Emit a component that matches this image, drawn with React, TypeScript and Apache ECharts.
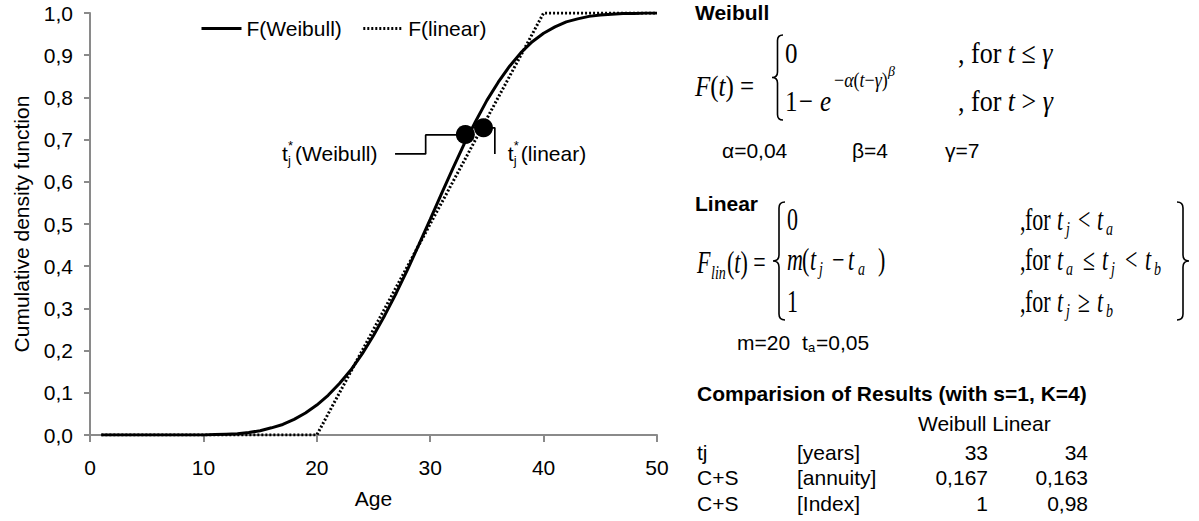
import React, { useEffect, useRef } from "react";
import * as echarts from "echarts";

// ---------- data ----------
const ages = [
  1, 2, 3, 4, 5, 6, 7, 8, 9, 10, 11, 12, 13, 14, 15, 16, 17, 18, 19, 20, 21, 22, 23, 24, 25,
  26, 27, 28, 29, 30, 31, 32, 33, 34, 35, 36, 37, 38, 39, 40, 41, 42, 43, 44, 45, 46, 47, 48, 49, 50,
];
const weibullF = [
  0, 0, 0, 0, 0, 0, 0, 0.0, 0.0, 0.0, 0.001, 0.002, 0.003, 0.006, 0.01, 0.017, 0.025, 0.037, 0.052, 0.071,
  0.094, 0.122, 0.154, 0.192, 0.236, 0.284, 0.336, 0.392, 0.451, 0.511, 0.572, 0.632, 0.69, 0.743, 0.793,
  0.836, 0.874, 0.906, 0.932, 0.952, 0.967, 0.979, 0.986, 0.992, 0.995, 0.997, 0.999, 0.999, 1.0, 1.0,
];
const linearF = [
  0, 0, 0, 0, 0, 0, 0, 0, 0, 0, 0, 0, 0, 0, 0, 0, 0, 0, 0, 0,
  0.05, 0.1, 0.15, 0.2, 0.25, 0.3, 0.35, 0.4, 0.45, 0.5, 0.55, 0.6, 0.65, 0.7, 0.75, 0.8, 0.85, 0.9, 0.95, 1.0,
  1, 1, 1, 1, 1, 1, 1, 1, 1, 1,
];
const markerWeibull = [[33.1, 0.712]];
const markerLinear = [[34.7, 0.728]];
const connectorWeibull = [[26.9, 0.666], [29.6, 0.666], [29.6, 0.711], [33.1, 0.711]];
const connectorLinear = [[34.7, 0.728], [35.7, 0.728], [35.7, 0.666]];
const seriesNames = ["F(Weibull)", "F(linear)"];
const xAxisTitle = "Age";
const yAxisTitle = "Cumulative density function";
const weibullParams = ["α=0,04", "β=4", "γ=7"];
const linearParams = ["m=20", "=0,05"];
const tableTitle = "Comparision of Results (with s=1, K=4)";
const tableHeader = "Weibull Linear";
const tableRows = [
  ["tj", "[years]", "33", "34"],
  ["C+S", "[annuity]", "0,167", "0,163"],
  ["C+S", "[Index]", "1", "0,98"],
];

const SANS = '"Liberation Sans", Arial, Helvetica, sans-serif';
const SERIF = '"Liberation Serif", "Times New Roman", Times, serif';

// brace shape
const BraceShape = (echarts as any).graphic.extendShape({
  type: "brace",
  shape: { x: 0, y: 0, w: 10, h: 100, dir: 1 },
  buildPath(ctx: any, s: any) {
    const { x, y, w, h, dir } = s;
    const xo = dir === 1 ? x + w : x;
    const xm = x + w / 2;
    const xp = dir === 1 ? x : x + w;
    const r = Math.min(w / 2, h / 8);
    ctx.moveTo(xo, y);
    ctx.quadraticCurveTo(xm, y, xm, y + r);
    ctx.lineTo(xm, y + h / 2 - r);
    ctx.quadraticCurveTo(xm, y + h / 2, xp, y + h / 2);
    ctx.quadraticCurveTo(xm, y + h / 2, xm, y + h / 2 + r);
    ctx.lineTo(xm, y + h - r);
    ctx.quadraticCurveTo(xm, y + h, xo, y + h);
  },
});
(echarts as any).graphic.registerShape("brace", BraceShape);

function T(text: string, x: number, y: number, o: any = {}) {
  const size = o.size ?? 21;
  const family = o.serif ? SERIF : SANS;
  const style: any = {
    text,
    fill: "#000",
    fontSize: size,
    fontFamily: family,
    fontStyle: o.italic ? "italic" : "normal",
    fontWeight: o.bold ? "bold" : "normal",
    align: o.align ?? "left",
    verticalAlign: "middle",
    textAlign: o.align ?? "left",
    textVerticalAlign: "middle",
  };
  if (o.rich) style.rich = o.rich;
  return { type: "text", x, y, scaleY: o.sy ?? 1, silent: true, z: 10, style };
}
const ri = (size: number) => ({
  i: { fontStyle: "italic", fontSize: size, fontFamily: SERIF, fill: "#000" },
});

function brace(x: number, y: number, w: number, h: number, dir: number) {
  return {
    type: "brace",
    silent: true,
    z: 10,
    shape: { x, y, w, h, dir },
    style: { fill: "none", stroke: "#000", lineWidth: 1.6 },
  };
}

function mathRow(y: number, parts: any[], size: number, sy: number) {
  return parts.map(([t, x, k]) => {
    if (k === "s") return T(t, x, y + 9, { serif: true, italic: true, size: Math.round(size * 0.65), sy });
    return T(t, x, y, { serif: true, italic: k === "i", size, sy });
  });
}

function panelGraphics() {
  const g: any[] = [];
  // Weibull
  g.push(T("Weibull", 695, 12, { bold: true }));
  g.push(T("{i|F}({i|t}) =", 695, 86, { serif: true, size: 25, sy: 1.2, rich: ri(25) }));
  g.push(brace(772, 35, 11, 85, 1));
  g.push(T("0", 785, 53, { serif: true, size: 25, sy: 1.2 }));
  g.push(T("1", 785, 101, { serif: true, size: 25, sy: 1.2 }));
  g.push(T("−", 799, 101, { serif: true, size: 25, sy: 1.2 }));
  g.push(T("e", 820, 101, { serif: true, italic: true, size: 25, sy: 1.2 }));
  g.push(T("−{i|α}({i|t}−{i|γ})", 834, 80, { serif: true, size: 18, sy: 1.15, rich: ri(18) }));
  g.push(T("β", 888, 71, { serif: true, italic: true, size: 14 }));
  g.push(T(", for {i|t} ≤ {i|γ}", 958, 53, { serif: true, size: 26, sy: 1.15, rich: ri(26) }));
  g.push(T(", for {i|t} > {i|γ}", 958, 101, { serif: true, size: 26, sy: 1.15, rich: ri(26) }));
  g.push(T(weibullParams[0], 722, 150));
  g.push(T(weibullParams[1], 852, 150));
  g.push(T(weibullParams[2], 945, 150));

  // Linear
  g.push(T("Linear", 695, 203, { bold: true }));
  const ls = 22, lsy = 1.4;
  g.push(T("F", 697, 263, { serif: true, italic: true, size: ls, sy: lsy }));
  g.push(T("lin", 711, 273, { serif: true, italic: true, size: 14, sy: lsy }));
  g.push(T("({i|t}) =", 727, 263, { serif: true, size: ls, sy: lsy, rich: ri(ls) }));
  g.push(brace(773, 202, 12, 118, 1));
  g.push(brace(1177, 202, 12, 118, -1));
  g.push(...mathRow(220, [["0", 787, "n"]], ls, lsy));
  g.push(
    ...mathRow(
      260,
      [["m", 787, "i"], ["(", 802, "n"], ["t", 810, "i"], ["j", 819, "s"], ["−", 832, "n"], ["t", 848, "i"], ["a", 858, "s"], [")", 878, "n"]],
      ls,
      lsy
    )
  );
  g.push(...mathRow(302, [["1", 787, "n"]], ls, lsy));
  g.push(
    ...mathRow(
      220,
      [[",", 1020, "n"], ["for", 1025, "n"], ["t", 1057, "i"], ["j", 1066, "s"], ["<", 1078, "n"], ["t", 1097, "i"], ["a", 1106, "s"]],
      ls,
      lsy
    )
  );
  g.push(
    ...mathRow(
      260,
      [[",", 1020, "n"], ["for", 1025, "n"], ["t", 1057, "i"], ["a", 1066, "s"], ["≤", 1083, "n"], ["t", 1102, "i"], ["j", 1111, "s"], ["<", 1125, "n"], ["t", 1145, "i"], ["b", 1154, "s"]],
      ls,
      lsy
    )
  );
  g.push(
    ...mathRow(
      302,
      [[",", 1020, "n"], ["for", 1025, "n"], ["t", 1057, "i"], ["j", 1066, "s"], ["≥", 1078, "n"], ["t", 1097, "i"], ["b", 1106, "s"]],
      ls,
      lsy
    )
  );
  g.push(T(linearParams[0], 737, 342));
  g.push(T("t", 802, 342));
  g.push(T("a", 808, 347, { size: 13 }));
  g.push(T(linearParams[1], 816, 342));

  // Comparison table
  g.push(T(tableTitle, 697, 393, { bold: true }));
  g.push(T(tableHeader, 918, 423));
  const rowY = [452, 477, 503];
  tableRows.forEach((r, i) => {
    g.push(T(r[0], 697, rowY[i]));
    g.push(T(r[1], 797, rowY[i]));
    g.push(T(r[2], 988, rowY[i], { align: "right" }));
    g.push(T(r[3], 1088, rowY[i], { align: "right" }));
  });
  return g;
}

function tjLabel(x: number, y: number, name: string) {
  return [
    T("t", x, y),
    T("j", x + 6, y + 7, { size: 13 }),
    T("*", x + 6, y - 8, { size: 13 }),
    T(name, x + 13, y),
  ];
}

export default function App() {
  const ref = useRef<HTMLDivElement>(null);
  useEffect(() => {
    document.body.style.margin = "0";
    if (!ref.current) return;
    const chart = echarts.init(ref.current, undefined, { renderer: "svg" });
    const axisColor = "#8a8a8a";
    const txt = { fontSize: 21, fontFamily: SANS, color: "#000" };
    const option: any = {
      animation: false,
      grid: { left: 90, top: 13, width: 567, height: 422 },
      legend: {
        data: seriesNames,
        left: 200,
        top: 18,
        padding: 0,
        itemWidth: 40,
        itemHeight: 14,
        itemGap: 20,
        selectedMode: false,
        itemStyle: { opacity: 0 },
        lineStyle: { width: 3 },
        textStyle: txt,
      },
      xAxis: {
        type: "value",
        min: 0,
        max: 50,
        interval: 10,
        name: xAxisTitle,
        nameLocation: "middle",
        nameGap: 53,
        nameTextStyle: txt,
        axisLine: { show: true, lineStyle: { color: axisColor, width: 2 } },
        axisTick: { show: true, length: 7, lineStyle: { color: axisColor, width: 2 } },
        axisLabel: { ...txt, margin: 22 },
        splitLine: { show: false },
      },
      yAxis: {
        type: "value",
        min: 0,
        max: 1,
        interval: 0.1,
        name: yAxisTitle,
        nameLocation: "middle",
        nameGap: 58,
        nameTextStyle: txt,
        axisLine: { show: true, lineStyle: { color: axisColor, width: 2 } },
        axisTick: { show: true, length: 6, lineStyle: { color: axisColor, width: 2 } },
        axisLabel: { ...txt, margin: 17, formatter: (v: number) => v.toFixed(1).replace(".", ",") },
        splitLine: { show: false },
      },
      series: [
        {
          name: seriesNames[0],
          type: "line",
          data: ages.map((a, i) => [a, weibullF[i]]),
          symbol: "none",
          lineStyle: { color: "#000", width: 3 },
          itemStyle: { color: "#000" },
          z: 3,
        },
        {
          name: seriesNames[1],
          type: "line",
          data: ages.map((a, i) => [a, linearF[i]]),
          symbol: "none",
          lineStyle: { color: "#000", width: 3, type: [2, 2] },
          itemStyle: { color: "#000" },
          z: 4,
        },
        {
          name: "connW",
          type: "line",
          data: connectorWeibull,
          symbol: "none",
          silent: true,
          lineStyle: { color: "#000", width: 1.7 },
          z: 5,
        },
        {
          name: "connL",
          type: "line",
          data: connectorLinear,
          symbol: "none",
          silent: true,
          lineStyle: { color: "#000", width: 1.7 },
          z: 5,
        },
        {
          name: "markW",
          type: "scatter",
          data: markerWeibull,
          symbolSize: 19,
          itemStyle: { color: "#000", opacity: 1 },
          z: 6,
        },
        {
          name: "markL",
          type: "scatter",
          data: markerLinear,
          symbolSize: 19,
          itemStyle: { color: "#000", opacity: 1 },
          z: 6,
        },
      ],
    };
    chart.setOption(option);
    const pW = chart.convertToPixel({ gridIndex: 0 }, connectorWeibull[0]) as number[];
    const pL = chart.convertToPixel({ gridIndex: 0 }, connectorLinear[connectorLinear.length - 1]) as number[];
    chart.setOption({
      graphic: [
        ...panelGraphics(),
        ...tjLabel(pW[0] - 113, pW[1], "(Weibull)"),
        ...tjLabel(pL[0] + 13, pL[1], "(linear)"),
      ],
    });
    return () => chart.dispose();
  }, []);
  return <div ref={ref} style={{ width: 1199, height: 521 }} />;
}
